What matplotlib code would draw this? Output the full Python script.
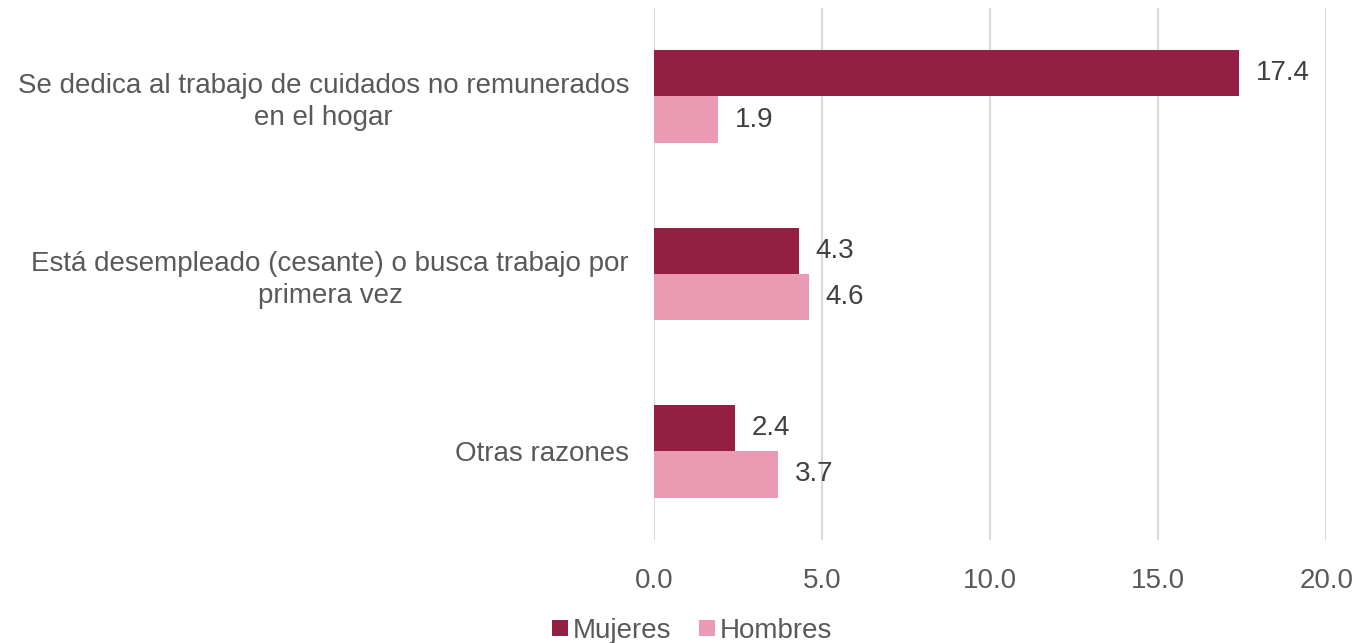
import matplotlib.pyplot as plt
import numpy as np

plt.rcParams['font.family'] = ['Liberation Sans', 'DejaVu Sans']

# data
categories = ['Se dedica al trabajo de cuidados no remunerados\nen el hogar',
              'Está desempleado (cesante) o busca trabajo por\nprimera vez',
              'Otras razones']
mujeres = [17.4, 4.3, 2.4]
hombres = [1.9, 4.6, 3.7]
series_names = ['Mujeres', 'Hombres']
colors = ['#931F42', '#EA9AB2']

fig = plt.figure(figsize=(13.55, 6.43), dpi=100)
ax = fig.add_axes([0.4827, 0.160, 0.496, 0.828])

y = np.arange(len(categories))
h = 0.26
b1 = ax.barh(y - h / 2, mujeres, height=h, color=colors[0], label=series_names[0], zorder=3)
b2 = ax.barh(y + h / 2, hombres, height=h, color=colors[1], label=series_names[1], zorder=3)

for bars in (b1, b2):
    ax.bar_label(bars, labels=[f'{v:.1f}' for v in bars.datavalues], padding=12,
                 fontsize=20, color='#404040')

ax.set_xlim(0, 20)
ax.set_ylim(2.5, -0.5)
ax.set_xticks([0, 5, 10, 15, 20])
ax.set_xticklabels([f'{v:.1f}' for v in [0, 5, 10, 15, 20]])
ax.set_yticks(y)
ax.set_yticklabels(categories, multialignment='center', linespacing=1.3)

ax.grid(axis='x', color='#D9D9D9', linewidth=1.5, zorder=0)
for s in ax.spines.values():
    s.set_visible(False)
ax.tick_params(axis='both', length=0, labelsize=20, labelcolor='#595959')
ax.tick_params(axis='y', pad=18)
ax.tick_params(axis='x', pad=20)

fig.legend(loc='lower center', bbox_to_anchor=(0.511, -0.04), ncol=2, frameon=False,
           fontsize=20, labelcolor='#595959', handlelength=0.55, handleheight=0.55,
           handletextpad=0.2, columnspacing=1.0)

fig.savefig('out.png', dpi=100)
